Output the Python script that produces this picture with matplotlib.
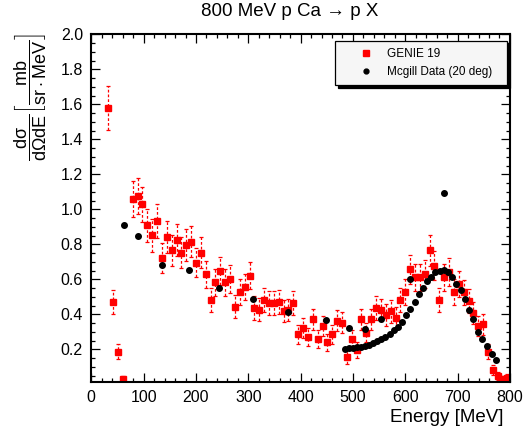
import matplotlib
matplotlib.use("Agg")
import matplotlib.pyplot as plt
from matplotlib.ticker import MultipleLocator, FormatStrFormatter

plt.rcParams['font.family'] = ['Liberation Sans', 'DejaVu Sans']
plt.rcParams['mathtext.fontset'] = 'custom'
plt.rcParams['mathtext.rm'] = 'Liberation Sans'
plt.rcParams['mathtext.it'] = 'Liberation Sans'
plt.rcParams['mathtext.bf'] = 'Liberation Sans:bold'

# GENIE 19 histogram (bin centres in MeV, cross section, error)
genie_energy = [32.6, 41.9, 51.2, 60.5, 79.1, 88.4, 97.7, 107.0, 116.3, 125.6,
                134.9, 144.2, 153.5, 162.8, 172.1, 181.4, 190.7, 200.0, 209.3, 218.6,
                227.9, 237.2, 246.5, 255.8, 265.1, 274.4, 283.7, 293.0, 302.3, 311.6,
                320.9, 330.2, 339.5, 348.8, 358.1, 367.4, 376.7, 386.0, 395.3, 404.7,
                414.0, 423.3, 432.6, 441.9, 451.2, 460.5, 469.8, 479.1, 488.4, 497.7,
                507.0, 516.3, 525.6, 534.9, 544.2, 553.5, 562.8, 572.1, 581.4, 590.7,
                600.0, 609.3, 618.6, 627.9, 637.2, 646.5, 655.8, 665.1, 674.4, 683.7,
                693.0, 702.3, 711.6, 720.9, 730.2, 739.5, 748.8, 758.1, 767.4, 776.7,
                786.0, 795.3]
genie_xsec = [1.58, 0.472, 0.185, 0.03, 1.057, 1.076, 1.029, 0.909, 0.851, 0.935,
              0.723, 0.843, 0.767, 0.824, 0.752, 0.796, 0.815, 0.695, 0.752, 0.628,
              0.482, 0.583, 0.649, 0.583, 0.602, 0.444, 0.528, 0.555, 0.621, 0.436,
              0.427, 0.482, 0.463, 0.463, 0.472, 0.419, 0.425, 0.463, 0.286, 0.324,
              0.269, 0.371, 0.259, 0.333, 0.240, 0.286, 0.362, 0.352, 0.158, 0.259,
              0.196, 0.371, 0.295, 0.371, 0.436, 0.425, 0.398, 0.417, 0.381, 0.482,
              0.528, 0.657, 0.611, 0.611, 0.630, 0.767, 0.678, 0.482, 0.611, 0.640,
              0.528, 0.574, 0.526, 0.474, 0.406, 0.333, 0.343, 0.185, 0.082, 0.047,
              0.029, 0.038]
genie_err = [0.125, 0.069, 0.043, 0.017, 0.103, 0.104, 0.101, 0.095, 0.092, 0.097,
             0.085, 0.092, 0.088, 0.091, 0.087, 0.089, 0.090, 0.083, 0.087, 0.079,
             0.069, 0.076, 0.081, 0.076, 0.078, 0.067, 0.073, 0.074, 0.079, 0.066,
             0.065, 0.069, 0.068, 0.068, 0.069, 0.065, 0.065, 0.068, 0.053, 0.057,
             0.052, 0.061, 0.051, 0.058, 0.049, 0.053, 0.060, 0.059, 0.040, 0.051,
             0.044, 0.061, 0.054, 0.061, 0.066, 0.065, 0.063, 0.065, 0.062, 0.069,
             0.073, 0.081, 0.078, 0.078, 0.079, 0.088, 0.082, 0.069, 0.078, 0.080,
             0.073, 0.076, 0.073, 0.069, 0.064, 0.058, 0.059, 0.043, 0.029, 0.022,
             0.017, 0.019]

# Mcgill data (20 deg)
mcgill_energy = [63.1, 89.8, 134.5, 186.1, 244.6, 308.4, 376.4, 448.4, 484.1, 492.4,
                 492.4, 500.6, 508.3, 515.9, 523.6, 523.6, 531.2, 538.9, 546.5, 554.1,
                 554.1, 561.8, 570.1, 578.3, 586.0, 594.3, 601.9, 609.6, 609.6, 617.8,
                 625.5, 633.1, 640.8, 649.0, 657.3, 665.6, 673.2, 673.9, 681.5, 689.2,
                 696.8, 705.7, 714.0, 721.7, 729.9, 738.9, 747.1, 756.1, 765.0, 773.2]
mcgill_xsec = [0.912, 0.846, 0.682, 0.651, 0.549, 0.486, 0.411, 0.368, 0.204, 0.206,
               0.324, 0.208, 0.211, 0.215, 0.221, 0.314, 0.227, 0.234, 0.246, 0.257,
               0.375, 0.272, 0.290, 0.309, 0.330, 0.356, 0.398, 0.430, 0.604, 0.470,
               0.514, 0.550, 0.590, 0.615, 0.640, 0.650, 0.653, 1.091, 0.640, 0.613,
               0.575, 0.539, 0.488, 0.425, 0.371, 0.301, 0.257, 0.219, 0.173, 0.139]

fig = plt.figure(figsize=(5.29, 4.32), dpi=100)
ax = fig.add_axes([0.1726, 0.1164, 0.7914, 0.8042])

# GENIE points with dashed error bars
eb = ax.errorbar(genie_energy, genie_xsec, yerr=genie_err, fmt='s', color='red',
                 ms=4.3, ecolor='red', elinewidth=0.9, capsize=1.6, capthick=0.9,
                 zorder=2)
eb[2][0].set_linestyle((0, (2.2, 1.6)))

# Mcgill data on top
mcgill = ax.plot(mcgill_energy, mcgill_xsec, 'o', color='black', ms=4, ls='none',
                 zorder=3)[0]

ax.set_xlim(0, 800)
ax.set_ylim(0.015, 2.0)
ax.xaxis.set_major_locator(MultipleLocator(100))
ax.xaxis.set_minor_locator(MultipleLocator(20))
ax.yaxis.set_major_locator(MultipleLocator(0.2))
ax.yaxis.set_minor_locator(MultipleLocator(0.05))
ax.yaxis.set_major_formatter(FormatStrFormatter('%.1f'))
ax.tick_params(which='both', direction='in', top=True, right=True, width=0.9,
               labelsize=11.5, pad=6)
ax.tick_params(which='major', length=6.5)
ax.tick_params(which='minor', length=3.2)
for s in ax.spines.values():
    s.set_linewidth(1.5)

# Titles
fig.text(290 / 529, 1 - 12 / 432, u'800 MeV p Ca \u2192 p X', ha='center', va='center',
         fontsize=13.5)
fig.text(503 / 529, 1 - 418 / 432, 'Energy [MeV]', ha='right', va='center', fontsize=13.5)
fig.text(30 / 529, 1 - 33 / 432,
         r'$\dfrac{\mathrm{d}\sigma}{\mathrm{d}\Omega \mathrm{d}E}\left[\dfrac{\mathrm{mb}}{\mathrm{sr}\cdot\mathrm{MeV}}\right]$',
         rotation=90, ha='center', va='top', fontsize=13)

# Legend (marker only for GENIE, like the reference)
leg = ax.legend([eb[0], mcgill], ['GENIE 19', 'Mcgill Data (20 deg)'],
                loc='center', bbox_to_anchor=(335 / 529, 1 - 85 / 432, 172 / 529, 44 / 432),
                bbox_transform=fig.transFigure, mode='expand', fontsize=8.5, numpoints=1,
                frameon=True, fancybox=False, shadow={'color': 'black', 'alpha': 1},
                edgecolor='black', facecolor='#f6f6f6', framealpha=1,
                handlelength=4.0, handletextpad=-0.2, borderpad=0.6, labelspacing=0.55,
                borderaxespad=0)
leg.get_frame().set_linewidth(0.9)
leg.legend_handles[0].set_markersize(4)
leg.legend_handles[1].set_markersize(3.5)

fig.savefig('out.png', dpi=100)
